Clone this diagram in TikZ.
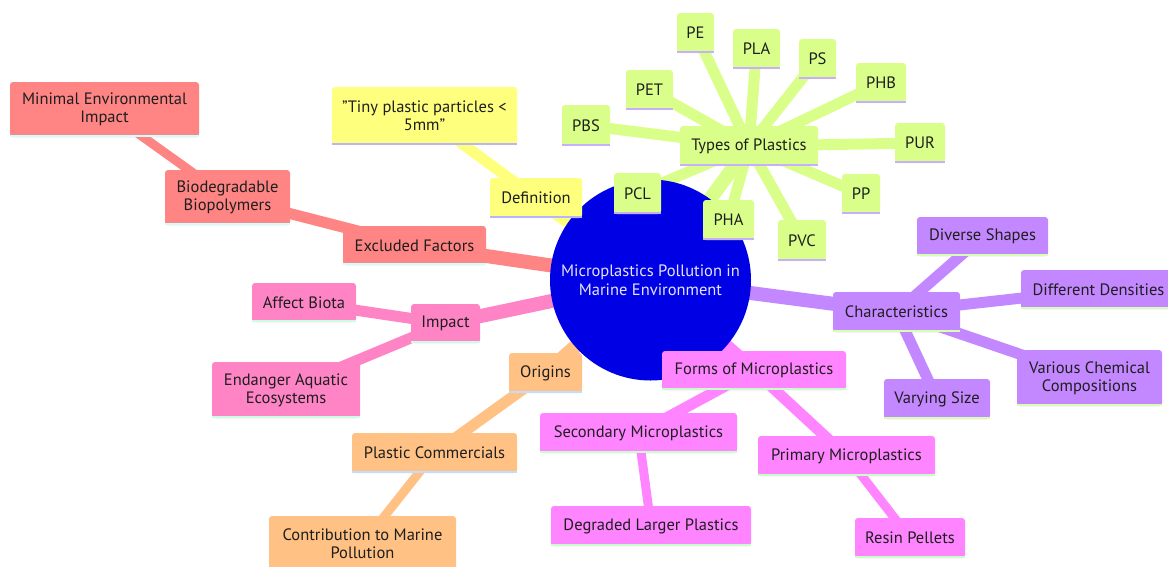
\documentclass[tikz,border=0pt]{standalone}
\usepackage{fontspec}
\setmainfont{PT Sans}
\usetikzlibrary{backgrounds}
\definecolor{txt}{HTML}{1E1E1E}
\definecolor{rootblue}{HTML}{0000E4}
\definecolor{roottxt}{HTML}{E4E4FF}
\definecolor{redF}{HTML}{FF8484}
\definecolor{redB}{HTML}{CCFFFF}
\definecolor{yelF}{HTML}{FFFF7E}
\definecolor{yelB}{HTML}{B8B4FF}
\definecolor{grnF}{HTML}{D9FF8A}
\definecolor{grnB}{HTML}{C8AEFF}
\definecolor{purF}{HTML}{C388FF}
\definecolor{purB}{HTML}{D6FFB0}
\definecolor{purT}{HTML}{F6F0FF}
\definecolor{magF}{HTML}{FF84FF}
\definecolor{magB}{HTML}{C8FFC8}
\definecolor{oraF}{HTML}{FFC284}
\definecolor{oraB}{HTML}{C2DCFF}
\definecolor{pnkF}{HTML}{FF84C6}
\definecolor{pnkB}{HTML}{C8FFE4}
\tikzset{
  mm/.style={rounded corners=3pt, inner sep=0pt, align=center,
    font=\fontsize{16.5}{18}\selectfont, text=txt},
  rootnode/.style={circle, fill=rootblue, minimum size=201pt, inner sep=0pt,
    align=center, text=roottxt, font=\fontsize{16.5}{19}\selectfont},
  eA/.style={line width=14pt},
  eB/.style={line width=11pt},
  eC/.style={line width=9pt},
}
% name, x1, y1, x2, y2, fill, bottom, text
\newcommand\mmbox[8]{%
  \node[mm, fill=#6, minimum width={#4-#2}, minimum height={#5-#3}] (#1)
    at ({(#2+#4)/2},{(#3+#5)/2}) {#8};
  \draw[line width=2.6pt, #7] ([yshift=1.3pt]#1.south west) -- ([yshift=1.3pt]#1.south east);}
\begin{document}
\begin{tikzpicture}[x=1pt,y=-1pt]
\useasboundingbox (0,0) rectangle (1168,566);
\node[rootnode] (root) at (650.5,280) {Microplastics Pollution in\\Marine Environment};
% Excluded factors (red)
\mmbox{excl}{343}{226}{486}{265}{redF}{redB}{Excluded Factors}
\mmbox{bio}{165}{170}{290}{225}{redF}{redB}{Biodegradable\\Biopolymers}
\mmbox{minimal}{10}{82}{199}{137}{redF}{redB}{Minimal Environmental\\Impact}
% Definition (yellow)
\mmbox{def}{490}{178}{582}{218}{yelF}{yelB}{Definition}
\mmbox{tiny}{332}{87}{517}{145}{yelF}{yelB}{\char"22 Tiny plastic particles <\\5mm\char"22}
% Types of plastics (green)
\mmbox{types}{680}{126}{818}{166}{grnF}{grnB}{Types of Plastics}
\mmbox{pe}{677}{13}{714}{53}{grnF}{grnB}{PE}
\mmbox{pla}{733}{29}{780}{69}{grnF}{grnB}{PLA}
\mmbox{ps}{799}{39}{836}{79}{grnF}{grnB}{PS}
\mmbox{phb}{856}{63}{906}{103}{grnF}{grnB}{PHB}
\mmbox{pur}{895}{123}{945}{163}{grnF}{grnB}{PUR}
\mmbox{pp}{842}{174}{880}{214}{grnF}{grnB}{PP}
\mmbox{pvc}{778}{220}{826}{261}{grnF}{grnB}{PVC}
\mmbox{pha}{703}{200}{754}{240}{grnF}{grnB}{PHA}
\mmbox{pcl}{614}{173}{661}{214}{grnF}{grnB}{PCL}
\mmbox{pbs}{562}{105}{610}{146}{grnF}{grnB}{PBS}
\mmbox{pet}{626}{70}{673}{110}{grnF}{grnB}{PET}
% Characteristics (purple)
\begin{scope}[every node/.append style={text=purT}]
\mmbox{charac}{833}{292}{960}{332}{purF}{purB}{Characteristics}
\mmbox{shapes}{917}{217}{1048}{256}{purF}{purB}{Diverse Shapes}
\mmbox{dens}{1021}{270}{1176}{309}{purF}{purB}{Different Densities}
\mmbox{chem}{1017}{350}{1162}{406}{purF}{purB}{Various Chemical\\Compositions}
\mmbox{size}{884}{379}{990}{419}{purF}{purB}{Varying Size}
\end{scope}
% Forms (magenta)
\mmbox{forms}{662}{351}{846}{390}{magF}{magB}{Forms of Microplastics}
\mmbox{second}{540}{413}{737}{453}{magF}{magB}{Secondary Microplastics}
\mmbox{degr}{551}{506}{751}{546}{magF}{magB}{Degraded Larger Plastics}
\mmbox{prim}{758}{436}{935}{476}{magF}{magB}{Primary Microplastics}
\mmbox{resin}{855}{518}{965}{558}{magF}{magB}{Resin Pellets}
% Origins (orange)
\mmbox{orig}{509}{353}{582}{393}{oraF}{oraB}{Origins}
\mmbox{comm}{352}{433}{517}{473}{oraF}{oraB}{Plastic Commercials}
\mmbox{contrib}{269}{516}{456}{572}{oraF}{oraB}{Contribution to Marine\\Pollution}
% Impact (pink)
\mmbox{imp}{411}{304}{480}{343}{pnkF}{pnkB}{Impact}
\mmbox{biota}{252}{283}{356}{322}{pnkF}{pnkB}{Affect Biota}
\mmbox{endanger}{212}{362}{360}{418}{pnkF}{pnkB}{Endanger Aquatic\\Ecosystems}
\begin{scope}[on background layer]
\draw[eA, redF] (root.center) -- (excl.center);
\draw[eB, redF] (excl.center) -- (bio.center);
\draw[eC, redF] (bio.center) -- (minimal.center);
\draw[eA, yelF] (root.center) -- (def.center);
\draw[eB, yelF] (def.center) -- (tiny.center);
\draw[eA, grnF] (root.center) -- (types.center);
\foreach \n in {pe,pla,ps,phb,pur,pp,pvc,pha,pcl,pbs,pet}
  \draw[eB, grnF] (types.center) -- (\n.center);
\draw[eA, purF] (root.center) -- (charac.center);
\foreach \n in {shapes,dens,chem,size}
  \draw[eB, purF] (charac.center) -- (\n.center);
\draw[eA, magF] (root.center) -- (forms.center);
\draw[eB, magF] (forms.center) -- (second.center);
\draw[eC, magF] (second.center) -- (degr.center);
\draw[eB, magF] (forms.center) -- (prim.center);
\draw[eC, magF] (prim.center) -- (resin.center);
\draw[eA, oraF] (root.center) -- (orig.center);
\draw[eB, oraF] (orig.center) -- (comm.center);
\draw[eC, oraF] (comm.center) -- (contrib.center);
\draw[eA, pnkF] (root.center) -- (imp.center);
\draw[eB, pnkF] (imp.center) -- (biota.center);
\draw[eB, pnkF] (imp.center) -- (endanger.center);
\end{scope}
\end{tikzpicture}
\end{document}
